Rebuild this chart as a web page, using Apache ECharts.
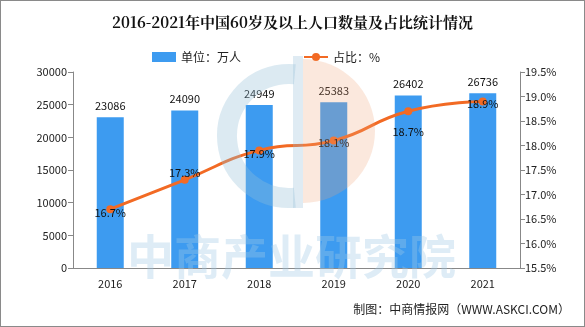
<!DOCTYPE html>
<html><head><meta charset="utf-8">
<script src="https://cdn.jsdelivr.net/npm/echarts@6/dist/echarts.min.js"></script>
<style>html,body{margin:0;padding:0;background:#fff}#c{width:583px;height:325px;border:1px solid #8a8a8a}</style>
</head><body><div id="c"></div>
<script>
var years = ['2016','2017','2018','2019','2020','2021'];
var population = [23086, 24090, 24949, 25383, 26402, 26736];
var share = [16.7, 17.3, 17.9, 18.1, 18.7, 18.9];
var title = '2016-2021年中国60岁及以上人口数量及占比统计情况';
var barName = '单位：万人';
var lineName = '占比：%';
var source = '制图：中商情报网（WWW.ASKCI.COM）';

var labelOffsets = [[0,4],[0,-7],[0,3],[0,2],[0,21],[0,2]];
var chart = echarts.init(document.getElementById('c'));
var font = '"Noto Sans CJK SC", "DejaVu Sans", sans-serif';
chart.setOption({
  animation: false,
  textStyle: {fontFamily: font},
  title: {text: title, left: 'center', top: 9,
    textStyle: {fontFamily: '"Noto Serif CJK SC","Noto Sans CJK SC", serif', fontSize: 15, fontWeight: 'bold', color: '#111'}},
  legend: {top: 45, left: 146, itemGap: 62, itemWidth: 24, itemHeight: 10,
    textStyle: {fontSize: 12, color: '#222'},
    data: [{name: barName, icon: 'rect'}, {name: lineName}]},
  grid: {left: 72, right: 64, top: 71, bottom: 58},
  xAxis: {type: 'category', data: years,
    axisLine: {lineStyle: {color: '#888'}},
    axisTick: {lineStyle: {color: '#888'}},
    axisLabel: {color: '#222', fontSize: 11, margin: 10}},
  yAxis: [
    {type: 'value', min: 0, max: 30000, interval: 5000, splitLine: {show: false},
     axisLine: {show: true, lineStyle: {color: '#888'}}, axisTick: {show: true, lineStyle: {color: '#888'}},
     axisLabel: {color: '#222', fontSize: 11, margin: 6, formatter: function(v){return String(v);}}},
    {type: 'value', min: 15.5, max: 19.5, interval: 0.5, splitLine: {show: false},
     axisLine: {show: true, lineStyle: {color: '#888'}}, axisTick: {show: true, lineStyle: {color: '#888'}},
     axisLabel: {color: '#222', fontSize: 11, margin: 5, formatter: function(v){return v.toFixed(1)+'%';}}}
  ],
  series: [
    {name: barName, type: 'bar', data: population, barWidth: 27, z: 2,
     itemStyle: {color: '#3d9bf0'},
     label: {show: true, position: 'top', color: '#111', fontSize: 11, distance: 6}},
    {name: lineName, type: 'line', yAxisIndex: 1, smooth: true, z: 5,
     data: share.map(function(v, i){ return {value: v, label: {offset: labelOffsets[i]}}; }),
     symbol: 'circle', symbolSize: 8,
     lineStyle: {color: '#f26a24', width: 3}, itemStyle: {color: '#f26a24'},
     label: {show: true, position: 'inside', color: '#111', fontSize: 11,
       formatter: function(p){return p.value.toFixed(1)+'%';}}}
  ],
  graphic: [
    {type: 'arc', z: 10, shape: {cx: 288, cy: 135, r: 62, startAngle: Math.PI*0.47, endAngle: Math.PI*1.53},
     style: {stroke: 'rgba(150,190,215,0.33)', lineWidth: 20, fill: null}},
    {type: 'rect', z: 10, shape: {x: 292, y: 55, width: 10, height: 152},
     style: {fill: 'rgba(150,190,215,0.3)'}},
    {type: 'sector', z: 10, shape: {cx: 302, cy: 130, r0: 0, r: 72, startAngle: -Math.PI*0.5, endAngle: Math.PI*0.5},
     style: {fill: 'rgba(240,165,120,0.25)'}},
    {type: 'text', z: 10, left: 126, top: 232,
     style: {text: '中商产业研究院', fontSize: 47, fontWeight: 'bold', fill: 'rgba(160,200,230,0.35)', fontFamily: font}},
    {type: 'text', right: 14, top: 302, style: {text: source, fontSize: 12, fill: '#222', fontFamily: font}}
  ]
});
</script></body></html>
